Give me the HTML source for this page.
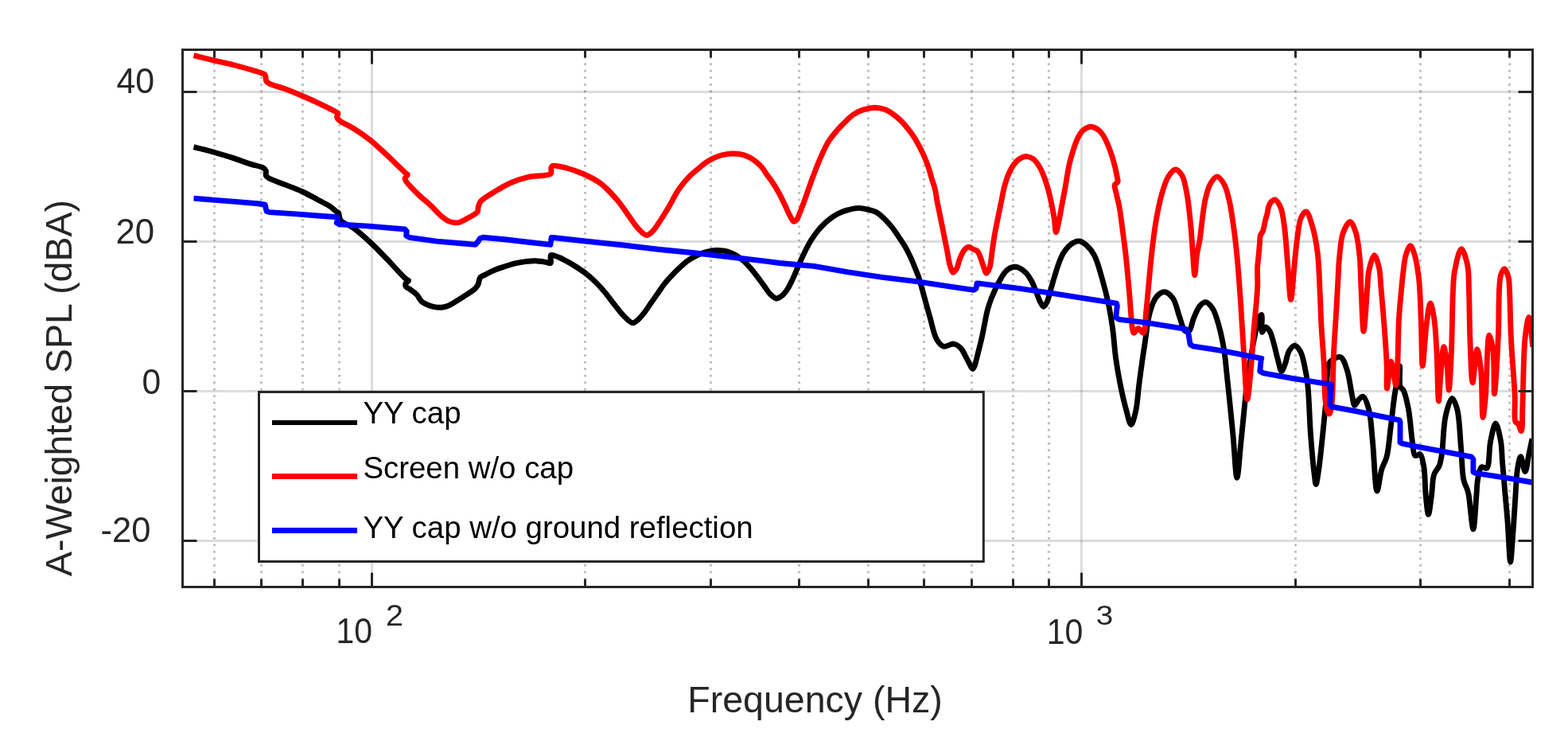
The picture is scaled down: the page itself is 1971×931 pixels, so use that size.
<!DOCTYPE html>
<html><head><meta charset="utf-8"><title>A-Weighted SPL</title>
<style>html,body{margin:0;padding:0;background:#fff;}svg{display:block;}</style></head>
<body><svg width="1971" height="931" viewBox="0 0 1971 931">
<defs><clipPath id="clip"><rect x="229.5" y="62.5" width="1697.0" height="675.0"/></clipPath></defs>
<rect width="1971" height="931" fill="#fff"/>
<line x1="269.5" y1="62.5" x2="269.5" y2="737.5" stroke="#c0c0c0" stroke-width="3" stroke-dasharray="2.8 5.71" stroke-dashoffset="0.22"/>
<line x1="328.5" y1="62.5" x2="328.5" y2="737.5" stroke="#c0c0c0" stroke-width="3" stroke-dasharray="2.8 5.71" stroke-dashoffset="0.22"/>
<line x1="380.5" y1="62.5" x2="380.5" y2="737.5" stroke="#c0c0c0" stroke-width="3" stroke-dasharray="2.8 5.71" stroke-dashoffset="0.22"/>
<line x1="426.5" y1="62.5" x2="426.5" y2="737.5" stroke="#c0c0c0" stroke-width="3" stroke-dasharray="2.8 5.71" stroke-dashoffset="0.22"/>
<line x1="735.5" y1="62.5" x2="735.5" y2="737.5" stroke="#c0c0c0" stroke-width="3" stroke-dasharray="2.8 5.71" stroke-dashoffset="0.22"/>
<line x1="893.5" y1="62.5" x2="893.5" y2="737.5" stroke="#c0c0c0" stroke-width="3" stroke-dasharray="2.8 5.71" stroke-dashoffset="0.22"/>
<line x1="1004.5" y1="62.5" x2="1004.5" y2="737.5" stroke="#c0c0c0" stroke-width="3" stroke-dasharray="2.8 5.71" stroke-dashoffset="0.22"/>
<line x1="1091.5" y1="62.5" x2="1091.5" y2="737.5" stroke="#c0c0c0" stroke-width="3" stroke-dasharray="2.8 5.71" stroke-dashoffset="0.22"/>
<line x1="1161.5" y1="62.5" x2="1161.5" y2="737.5" stroke="#c0c0c0" stroke-width="3" stroke-dasharray="2.8 5.71" stroke-dashoffset="0.22"/>
<line x1="1221.5" y1="62.5" x2="1221.5" y2="737.5" stroke="#c0c0c0" stroke-width="3" stroke-dasharray="2.8 5.71" stroke-dashoffset="0.22"/>
<line x1="1273.5" y1="62.5" x2="1273.5" y2="737.5" stroke="#c0c0c0" stroke-width="3" stroke-dasharray="2.8 5.71" stroke-dashoffset="0.22"/>
<line x1="1318.5" y1="62.5" x2="1318.5" y2="737.5" stroke="#c0c0c0" stroke-width="3" stroke-dasharray="2.8 5.71" stroke-dashoffset="0.22"/>
<line x1="1628.5" y1="62.5" x2="1628.5" y2="737.5" stroke="#c0c0c0" stroke-width="3" stroke-dasharray="2.8 5.71" stroke-dashoffset="0.22"/>
<line x1="1785.5" y1="62.5" x2="1785.5" y2="737.5" stroke="#c0c0c0" stroke-width="3" stroke-dasharray="2.8 5.71" stroke-dashoffset="0.22"/>
<line x1="1897.5" y1="62.5" x2="1897.5" y2="737.5" stroke="#c0c0c0" stroke-width="3" stroke-dasharray="2.8 5.71" stroke-dashoffset="0.22"/>
<line x1="467.5" y1="737.5" x2="467.5" y2="62.5" stroke="#262626" stroke-opacity="0.16" stroke-width="3"/>
<line x1="1359.5" y1="737.5" x2="1359.5" y2="62.5" stroke="#262626" stroke-opacity="0.16" stroke-width="3"/>
<line x1="229.5" y1="679.5" x2="1926.5" y2="679.5" stroke="#262626" stroke-opacity="0.16" stroke-width="3"/>
<line x1="229.5" y1="491.5" x2="1926.5" y2="491.5" stroke="#262626" stroke-opacity="0.16" stroke-width="3"/>
<line x1="229.5" y1="303.5" x2="1926.5" y2="303.5" stroke="#262626" stroke-opacity="0.16" stroke-width="3"/>
<line x1="229.5" y1="115.5" x2="1926.5" y2="115.5" stroke="#262626" stroke-opacity="0.16" stroke-width="3"/>
<path d="M243.5,184.6C252.3,186.9 261.3,189.1 269.8,191.5C277.9,193.8 285.7,196.1 293.4,198.6C300.8,201.0 308.2,203.9 314.9,206.1C320.6,208.0 327.8,209.0 331.0,211.0C332.7,212.1 333.7,213.2 334.3,214.7C334.9,216.4 333.6,219.1 334.3,220.7C334.9,222.0 335.8,222.6 337.5,223.7C341.3,226.1 351.0,229.1 357.9,231.9C365.0,234.7 372.3,237.2 379.4,240.5C386.7,243.8 394.4,248.2 400.9,251.7C406.4,254.6 412.1,257.3 415.9,260.0C418.6,261.9 420.5,264.2 422.3,265.5C423.5,266.4 424.9,266.5 425.6,267.5C426.4,268.6 426.0,270.4 426.5,272.0C427.0,273.8 427.2,275.8 428.8,277.6C431.5,280.6 438.5,282.5 443.8,286.2C450.5,290.9 458.3,297.9 465.3,304.4C472.6,311.1 479.5,318.4 486.8,325.9C494.6,333.9 506.7,348.0 510.9,351.1C512.1,352.0 513.5,351.8 513.6,352.5C513.8,353.4 510.3,355.1 509.8,356.5C509.4,357.6 509.6,359.0 510.2,360.0C511.0,361.4 513.3,362.0 515.2,363.4C517.7,365.2 521.4,367.4 523.8,370.0C526.2,372.5 527.2,376.3 529.8,378.6C532.5,381.0 536.6,382.7 540.0,384.0C543.0,385.1 546.2,385.8 549.1,386.1C551.8,386.4 554.5,386.4 557.0,386.0C559.5,385.6 561.3,385.2 564.1,383.9C569.1,381.7 577.6,375.9 583.5,372.1C588.6,368.8 594.4,365.3 597.4,362.4C599.2,360.6 600.0,359.4 601.0,357.4C602.2,354.9 602.1,350.5 603.7,348.5C605.0,346.9 606.8,346.7 608.9,345.6C612.2,343.9 617.4,341.1 621.8,339.3C626.0,337.5 630.4,336.2 634.7,334.8C639.0,333.4 643.3,331.9 647.6,330.9C651.9,329.9 656.2,329.1 660.5,328.6C664.8,328.1 669.0,327.6 673.3,327.7C677.6,327.8 682.7,328.8 686.2,329.4C688.6,329.8 691.1,331.5 692.2,330.6C693.7,329.4 690.8,321.8 692.4,320.6C694.0,319.4 698.6,321.8 701.8,323.0C705.6,324.4 709.7,326.8 713.6,328.9C717.6,331.1 721.5,333.5 725.4,336.0C729.4,338.6 733.3,341.2 737.2,344.3C741.3,347.5 745.2,351.1 749.1,354.9C753.2,358.9 757.1,363.3 760.9,367.9C764.9,372.7 768.7,378.2 772.7,383.2C776.6,388.1 780.5,393.5 784.5,397.4C788.0,400.8 791.9,405.5 795.1,405.7C797.6,405.9 799.8,403.5 802.1,401.6C804.9,399.2 807.7,395.5 810.4,392.1C813.2,388.5 815.9,384.2 818.6,380.3C821.4,376.4 824.1,372.4 826.9,368.5C829.7,364.6 832.2,360.4 835.2,356.7C838.1,353.0 841.4,349.5 844.6,346.1C847.7,342.8 850.9,339.6 854.1,336.6C857.2,333.7 860.3,330.7 863.5,328.3C866.6,326.0 869.7,324.2 873.0,322.4C876.4,320.6 879.9,319.0 883.6,317.7C887.4,316.4 891.6,315.3 895.4,314.8C898.7,314.4 901.8,314.4 905.0,314.6C908.2,314.8 911.3,315.1 914.4,316.0C917.6,316.9 920.8,318.4 923.9,320.1C927.1,321.9 930.3,324.1 933.3,326.6C936.6,329.3 939.7,332.7 942.8,336.1C946.0,339.7 949.1,343.8 952.2,347.9C955.4,352.1 958.7,356.9 961.7,360.9C964.2,364.3 966.2,367.9 968.8,370.3C971.0,372.4 973.5,374.8 975.9,375.0C978.2,375.1 980.8,373.2 983.0,371.5C985.6,369.5 987.8,366.5 990.0,363.2C992.6,359.2 994.8,354.0 997.1,349.1C999.6,343.8 1001.8,337.9 1004.2,332.5C1006.5,327.3 1008.8,322.2 1011.3,317.2C1013.7,312.3 1016.2,307.4 1019.0,302.8C1021.7,298.3 1024.7,294.0 1027.9,290.1C1030.9,286.4 1034.3,282.9 1037.6,279.8C1040.7,276.9 1043.9,274.3 1047.2,272.1C1050.3,270.0 1053.6,268.3 1056.9,266.9C1060.1,265.5 1063.0,264.6 1066.5,263.7C1070.4,262.7 1075.1,261.4 1079.4,261.4C1083.7,261.4 1088.4,262.8 1092.3,263.7C1095.5,264.5 1098.2,264.9 1101.1,266.4C1104.4,268.1 1107.5,271.0 1110.7,274.0C1114.3,277.4 1118.1,281.6 1121.5,285.8C1125.0,290.1 1128.1,295.2 1131.1,299.7C1133.8,303.8 1136.4,307.5 1138.7,311.6C1141.0,315.7 1143.1,320.1 1145.1,324.4C1147.1,328.7 1148.8,333.2 1150.5,337.3C1152.0,341.1 1153.5,344.4 1154.8,348.1C1156.1,352.0 1156.8,355.0 1158.3,360.2C1160.9,369.4 1165.5,387.0 1169.0,398.8C1171.9,408.9 1173.8,420.4 1177.6,426.7C1180.1,430.8 1183.4,434.5 1186.2,435.3C1188.2,435.9 1190.0,434.5 1192.0,434.0C1194.3,433.4 1196.7,431.7 1199.1,432.1C1201.9,432.5 1205.1,434.8 1207.7,437.5C1211.1,441.0 1213.6,447.9 1216.3,452.5C1218.6,456.5 1221.2,463.5 1222.8,463.5C1223.8,463.5 1224.5,461.1 1225.2,459.5C1226.1,457.4 1226.6,454.7 1227.3,452.0C1228.2,448.7 1229.1,444.8 1230.0,441.2C1230.9,437.6 1231.8,434.2 1232.7,430.5C1233.7,426.5 1234.6,422.1 1235.5,418.0C1236.3,414.1 1237.0,410.2 1237.8,406.4C1238.5,402.6 1239.2,398.6 1240.0,395.1C1240.7,391.9 1241.4,389.1 1242.3,386.1C1243.2,383.1 1244.2,380.1 1245.3,377.1C1246.4,374.1 1247.8,370.9 1249.1,368.0C1250.3,365.2 1251.5,362.5 1252.8,359.8C1254.2,357.0 1255.7,354.2 1257.3,351.5C1258.9,348.7 1260.3,345.7 1262.2,343.3C1264.1,341.0 1266.2,338.7 1268.6,337.4C1270.9,336.1 1273.6,335.2 1276.1,335.3C1278.6,335.4 1281.4,336.7 1283.7,338.0C1286.1,339.3 1288.1,341.1 1290.1,343.3C1292.5,345.9 1294.6,349.3 1296.6,353.0C1299.0,357.4 1301.1,363.4 1303.0,368.0C1304.6,371.9 1305.7,375.7 1307.3,378.8C1308.6,381.3 1310.1,385.1 1311.6,385.2C1313.0,385.3 1314.7,382.2 1315.9,379.9C1317.7,376.5 1318.8,370.7 1320.2,365.9C1321.7,361.0 1323.0,356.1 1324.5,350.9C1326.2,345.4 1327.9,339.2 1329.9,333.7C1331.8,328.5 1333.8,322.9 1336.3,318.6C1338.5,314.9 1341.0,311.6 1343.8,309.0C1346.4,306.7 1349.8,304.5 1352.4,303.6C1354.3,302.9 1355.9,302.7 1357.8,303.1C1360.2,303.7 1362.7,305.5 1365.2,307.7C1368.6,310.7 1372.5,315.0 1375.5,320.6C1379.7,328.4 1382.8,341.2 1385.8,351.6C1388.8,361.9 1391.3,372.2 1393.5,382.5C1395.6,392.8 1397.2,402.7 1398.7,413.4C1400.3,424.9 1400.9,437.9 1402.5,449.5C1404.0,460.2 1405.6,470.0 1407.7,480.5C1409.9,491.5 1412.7,504.4 1415.4,514.0C1417.5,521.4 1419.7,533.5 1421.8,533.5C1423.8,533.5 1426.1,523.1 1427.7,516.4C1429.8,507.4 1430.4,494.2 1431.7,484.2C1432.8,475.6 1433.7,468.3 1434.9,460.0C1436.1,451.2 1437.4,442.7 1438.9,432.8C1440.8,420.7 1442.3,403.3 1445.4,392.5C1447.6,384.7 1449.7,377.6 1453.4,373.2C1456.3,369.8 1460.5,366.5 1463.9,366.7C1467.5,366.9 1471.5,370.9 1474.4,374.8C1478.2,380.1 1479.9,390.2 1482.4,397.3C1484.7,403.6 1486.5,412.6 1488.9,415.1C1489.9,416.2 1490.9,416.5 1492.0,416.5C1493.1,416.5 1494.3,416.2 1495.3,415.1C1497.4,412.9 1498.2,405.5 1500.2,400.6C1502.4,395.3 1505.0,388.0 1508.2,384.4C1510.4,381.9 1513.0,379.4 1515.5,379.6C1518.4,379.8 1521.8,383.9 1524.3,387.7C1527.8,393.0 1530.1,402.0 1532.4,410.2C1535.0,419.5 1537.2,430.7 1538.8,440.8C1540.4,450.6 1541.0,460.2 1542.1,470.0C1543.2,480.0 1544.1,489.0 1545.3,500.3C1546.8,514.5 1548.5,532.2 1550.1,548.6C1551.7,565.5 1553.2,600.2 1554.9,600.2C1556.5,600.2 1558.2,571.6 1559.8,556.7C1561.5,541.0 1563.0,523.5 1564.6,508.3C1566.0,494.8 1567.3,482.3 1569.0,470.2C1570.6,459.0 1572.4,448.1 1574.2,438.0C1575.8,428.9 1577.8,419.1 1579.3,412.2C1580.3,407.6 1580.5,403.6 1581.9,400.6C1582.9,398.4 1584.9,395.2 1585.8,395.5C1587.4,396.0 1584.8,416.9 1586.4,417.4C1587.4,417.7 1589.2,411.0 1590.9,410.9C1592.5,410.8 1594.6,413.7 1596.1,416.1C1598.3,419.7 1599.6,426.0 1601.2,431.6C1603.0,437.9 1604.6,446.0 1606.4,452.2C1607.9,457.4 1609.2,466.3 1610.9,466.4C1612.3,466.5 1614.0,460.9 1615.4,457.3C1617.3,452.6 1618.0,444.6 1620.6,440.6C1622.5,437.6 1625.4,434.0 1627.7,434.1C1630.1,434.2 1632.9,438.5 1634.8,441.9C1637.3,446.5 1638.5,453.5 1639.9,459.9C1641.5,467.1 1642.7,473.4 1643.8,483.1C1645.6,498.9 1646.0,526.4 1647.5,546.0C1648.8,563.4 1650.6,583.8 1652.0,595.0C1652.8,600.9 1653.3,608.5 1654.2,608.5C1655.2,608.5 1656.6,597.4 1657.7,589.9C1659.4,578.5 1661.1,560.6 1662.6,546.4C1664.0,532.7 1665.3,520.2 1666.6,506.1C1668.0,490.5 1667.3,464.3 1670.6,456.7C1671.8,454.0 1673.0,453.3 1675.0,452.0C1677.5,450.4 1682.3,447.4 1685.1,448.6C1688.7,450.1 1691.0,458.2 1693.2,464.7C1696.2,473.4 1697.7,488.8 1699.6,497.0C1700.8,502.1 1701.2,509.0 1702.8,509.3C1704.2,509.5 1706.1,503.9 1708.0,502.0C1709.6,500.3 1711.6,497.7 1713.3,498.1C1716.0,498.8 1718.7,507.4 1720.6,514.2C1723.5,524.4 1723.8,539.5 1725.4,554.4C1727.3,573.0 1728.5,616.9 1731.0,617.0C1732.6,617.1 1734.4,597.7 1736.7,589.9C1738.6,583.7 1741.4,580.4 1743.1,573.8C1745.6,564.3 1746.4,550.3 1748.0,538.0C1749.7,525.0 1751.4,507.7 1752.8,498.0C1753.6,492.5 1754.1,490.0 1755.0,485.0C1756.2,478.0 1758.6,459.9 1759.5,460.0C1760.4,460.1 1758.2,481.3 1760.2,486.0C1761.1,488.2 1762.8,487.9 1764.0,490.0C1766.5,494.5 1768.7,505.0 1770.5,514.2C1772.7,525.8 1773.7,543.7 1775.3,554.4C1776.4,561.5 1776.4,570.5 1778.6,572.2C1779.5,572.9 1780.9,572.3 1782.0,572.0C1783.1,571.7 1784.1,570.2 1785.0,570.6C1787.1,571.5 1788.6,580.2 1789.8,586.7C1791.5,596.1 1791.1,611.5 1792.2,622.2C1793.1,631.1 1794.3,646.4 1795.5,646.4C1796.7,646.4 1798.3,630.4 1799.5,622.2C1800.7,613.7 1800.4,602.7 1802.7,596.0C1804.3,591.4 1807.6,589.1 1809.2,585.1C1810.9,580.7 1811.4,576.9 1812.4,570.6C1814.2,559.2 1814.2,535.0 1817.2,522.2C1819.2,513.4 1822.6,500.6 1825.3,500.5C1827.5,500.4 1830.0,508.1 1831.7,514.2C1834.7,525.2 1835.1,547.1 1836.5,562.5C1837.8,576.5 1837.7,593.2 1839.8,602.8C1841.0,608.4 1843.5,612.1 1844.6,615.7C1845.4,618.2 1845.6,619.1 1846.2,622.2C1847.7,630.2 1850.3,664.9 1851.9,664.9C1853.5,664.9 1854.9,633.7 1855.9,622.2C1856.6,614.5 1856.4,608.9 1857.5,602.8C1858.6,597.1 1859.6,588.3 1862.3,586.7C1864.0,585.7 1867.1,589.5 1868.8,588.3C1872.7,585.7 1871.4,564.5 1873.6,554.4C1875.4,546.1 1877.9,531.9 1880.1,531.9C1882.2,531.9 1885.1,546.6 1886.5,554.4C1888.0,562.6 1887.7,570.8 1888.5,580.0C1889.4,590.8 1890.5,602.9 1891.5,615.0C1892.6,627.9 1893.9,640.9 1895.0,655.0C1896.3,671.0 1897.4,706.0 1898.6,706.0C1899.6,706.0 1900.8,683.3 1901.8,670.6C1903.0,655.7 1904.0,636.7 1905.0,622.2C1905.8,610.4 1906.0,598.9 1907.4,590.0C1908.4,583.6 1910.0,573.8 1911.5,573.8C1913.2,573.8 1915.4,592.6 1917.1,592.5C1918.9,592.4 1920.4,577.7 1921.9,570.6C1923.3,563.9 1924.6,557.7 1926.0,551.2" fill="none" stroke="#000000" stroke-width="6.9" stroke-linejoin="round" stroke-linecap="butt" clip-path="url(#clip)"/>
<path d="M243.5,69.7C252.3,71.8 261.3,74.1 269.8,76.1C277.9,78.0 285.7,79.6 293.4,81.5C300.8,83.4 308.4,85.6 314.9,87.5C320.4,89.1 326.9,90.9 330.0,92.2C331.5,92.9 332.5,93.1 333.2,94.0C333.9,94.9 333.8,96.3 334.0,97.5C334.3,98.9 334.0,100.7 334.7,101.9C335.5,103.2 336.7,104.0 338.6,105.1C342.5,107.3 351.3,109.2 357.9,111.6C364.9,114.2 372.3,117.2 379.4,120.2C386.6,123.2 393.8,126.4 400.9,129.8C408.1,133.2 418.7,138.3 422.3,140.6C423.7,141.5 424.6,141.8 424.9,142.7C425.2,143.8 423.3,145.6 423.5,147.0C423.7,148.5 424.9,149.8 426.6,151.3C429.9,154.2 437.8,157.3 443.8,161.0C450.7,165.3 458.3,170.4 465.3,176.0C472.6,181.8 479.5,188.6 486.8,195.3C494.5,202.5 506.8,214.8 510.4,217.9C511.4,218.8 512.3,218.7 512.4,219.5C512.6,220.7 508.9,222.3 509.0,224.5C509.3,229.2 521.2,239.7 527.0,245.5C531.6,250.2 536.0,253.0 540.5,257.2C545.4,261.8 551.2,268.6 555.5,272.2C558.3,274.6 560.4,276.2 563.0,277.5C565.4,278.7 568.2,279.4 570.6,279.7C572.8,280.0 574.9,280.0 577.0,279.5C579.2,279.0 580.9,277.8 583.5,276.5C587.5,274.4 595.9,270.1 598.5,267.9C599.6,267.0 600.1,266.5 600.5,265.5C601.1,264.2 600.6,262.2 601.1,260.4C601.7,258.1 602.3,255.4 604.3,252.9C607.6,248.9 615.3,244.8 621.5,241.0C628.2,236.9 635.7,232.3 643.0,229.2C650.0,226.2 656.7,224.2 664.4,222.4C673.0,220.4 689.1,221.7 692.4,218.1C694.0,216.3 692.2,212.7 692.8,211.0C693.2,209.9 693.4,208.9 694.5,208.4C697.1,207.2 705.7,209.5 711.7,211.0C718.5,212.7 726.2,215.4 733.2,218.5C740.5,221.8 747.9,225.2 754.7,230.3C762.3,236.0 769.7,244.2 776.2,251.8C782.6,259.2 788.4,268.8 793.3,275.4C796.9,280.3 799.5,284.5 803.0,288.0C806.0,291.1 809.6,295.3 812.7,295.5C815.3,295.6 817.6,293.3 820.0,291.0C823.5,287.7 827.1,281.5 830.5,276.4C834.1,271.1 837.5,265.4 840.9,259.6C844.5,253.5 848.2,245.8 851.4,240.7C853.7,237.1 855.5,234.7 857.9,231.7C860.6,228.3 863.7,224.6 866.9,221.4C870.1,218.2 873.7,215.3 877.2,212.4C880.6,209.5 884.1,206.4 887.5,204.0C890.5,201.9 893.4,200.3 896.6,198.8C899.9,197.3 903.2,196.0 906.9,195.0C910.9,194.0 915.7,193.2 919.8,193.0C923.4,192.8 926.7,193.1 930.1,193.7C933.6,194.3 937.1,195.4 940.4,196.9C943.9,198.5 947.6,201.0 950.7,203.4C953.6,205.7 956.2,208.4 958.4,211.1C960.6,213.7 962.0,216.6 964.0,219.5C966.2,222.6 968.7,225.6 971.0,229.0C973.6,232.8 976.1,236.9 978.6,241.5C981.5,246.7 984.6,253.4 987.2,258.7C989.4,263.3 991.2,268.0 993.2,271.5C994.8,274.2 996.3,278.1 997.9,278.4C999.1,278.6 1000.5,277.2 1001.5,276.0C1002.8,274.5 1003.3,272.4 1004.4,269.8C1006.1,265.8 1008.4,259.7 1010.4,254.4C1012.5,248.8 1014.1,243.5 1016.4,237.2C1019.2,229.3 1023.3,218.1 1026.1,210.9C1028.1,205.8 1029.7,202.2 1031.5,198.0C1033.3,194.0 1035.0,189.9 1036.9,186.2C1038.6,182.8 1040.2,179.6 1042.2,176.6C1044.2,173.6 1046.4,170.8 1048.7,168.0C1051.1,165.1 1053.7,162.1 1056.2,159.4C1058.7,156.8 1061.1,154.4 1063.7,151.9C1066.4,149.3 1069.2,146.5 1072.3,144.3C1075.3,142.2 1078.7,140.3 1082.0,139.0C1085.1,137.7 1088.5,136.9 1091.6,136.3C1094.5,135.7 1097.0,135.1 1100.0,135.2C1103.6,135.3 1107.8,136.0 1111.6,137.3C1115.6,138.7 1119.6,141.3 1123.2,143.8C1126.8,146.3 1130.2,149.4 1133.3,152.5C1136.4,155.7 1139.3,159.3 1142.0,162.7C1144.6,166.0 1147.1,169.4 1149.3,172.8C1151.4,176.1 1153.2,179.5 1155.1,183.0C1157.1,186.7 1159.0,190.5 1160.9,194.6C1162.9,199.1 1165.0,204.2 1166.7,209.1C1168.4,213.9 1169.5,218.8 1171.0,223.6C1172.4,228.4 1174.2,233.0 1175.4,238.0C1176.6,243.2 1177.2,248.6 1178.2,254.0C1179.3,259.7 1180.6,265.4 1181.8,271.5C1183.2,278.3 1184.7,285.8 1186.1,293.0C1187.5,300.1 1189.0,307.4 1190.4,314.4C1191.7,321.0 1192.6,328.7 1194.2,333.8C1195.3,337.3 1196.4,342.1 1197.9,342.4C1199.1,342.6 1201.0,340.1 1202.2,338.1C1204.1,335.1 1204.8,329.3 1206.5,325.2C1208.1,321.4 1209.7,317.0 1211.9,314.4C1213.6,312.4 1215.8,310.3 1217.8,310.2C1219.7,310.1 1221.8,312.5 1223.7,313.4C1225.4,314.2 1227.2,314.2 1228.5,315.5C1230.2,317.1 1231.1,320.1 1232.3,323.0C1233.8,326.7 1235.2,332.2 1236.6,335.9C1237.7,338.8 1238.6,343.3 1239.8,343.4C1241.1,343.5 1243.0,339.2 1244.1,335.9C1245.9,330.7 1246.2,321.6 1247.3,314.4C1248.4,307.3 1249.3,300.1 1250.6,293.0C1251.9,285.8 1253.5,278.5 1254.9,271.5C1256.2,264.8 1257.6,258.4 1258.9,252.0C1260.2,245.9 1261.1,239.7 1262.7,234.0C1264.2,228.6 1265.8,223.2 1267.9,218.5C1269.8,214.3 1271.8,210.2 1274.3,206.9C1276.6,203.9 1279.2,200.9 1282.1,199.2C1284.8,197.6 1288.2,196.4 1291.1,196.6C1293.8,196.8 1296.4,198.0 1298.8,199.8C1301.7,202.0 1304.3,205.8 1306.6,209.5C1309.1,213.6 1311.1,218.7 1313.0,223.7C1315.0,229.0 1316.7,234.8 1318.2,240.4C1319.7,246.0 1320.8,251.5 1322.0,257.2C1323.2,263.1 1324.4,269.3 1325.3,275.2C1326.2,280.9 1326.4,291.9 1327.4,292.0C1328.3,292.1 1329.9,283.0 1331.0,277.8C1332.4,271.6 1333.6,264.1 1334.9,257.2C1336.2,250.3 1337.4,244.1 1338.8,236.6C1340.5,227.4 1342.2,214.7 1344.2,206.0C1345.7,199.5 1347.3,194.4 1349.0,189.0C1350.6,184.0 1352.1,179.1 1354.2,174.8C1356.1,171.0 1357.8,167.1 1360.6,164.5C1363.4,162.0 1367.5,159.5 1370.9,159.3C1374.0,159.1 1377.4,160.9 1380.0,162.6C1382.6,164.3 1384.4,166.7 1386.4,169.6C1388.8,173.1 1390.9,178.0 1392.8,182.5C1394.8,187.1 1396.5,191.9 1398.0,196.7C1399.5,201.4 1400.8,206.3 1401.9,210.9C1402.9,215.3 1404.0,220.6 1404.5,223.8C1404.8,225.7 1405.5,227.1 1405.0,228.5C1404.5,230.0 1401.7,230.7 1401.2,232.5C1400.4,235.1 1402.4,239.2 1403.2,243.1C1404.2,248.1 1405.8,253.4 1407.0,260.0C1408.7,269.1 1410.2,281.9 1411.6,292.8C1413.0,303.6 1414.4,313.5 1415.6,325.0C1417.0,338.4 1418.3,353.7 1419.6,368.3C1420.9,383.2 1422.1,406.0 1423.6,413.4C1424.1,415.9 1424.2,418.1 1425.2,418.3C1426.4,418.6 1429.0,412.5 1431.0,412.5C1433.0,412.5 1435.7,418.9 1437.3,418.3C1440.0,417.3 1439.6,401.5 1440.6,392.5C1441.7,382.8 1442.6,371.9 1443.5,362.0C1444.4,352.7 1445.1,344.4 1446.0,335.0C1447.0,324.8 1448.1,313.6 1449.5,303.1C1450.8,292.7 1452.2,282.3 1454.1,272.2C1455.9,262.3 1458.0,251.8 1460.6,243.0C1462.9,235.4 1465.1,227.6 1468.4,222.3C1470.9,218.3 1474.3,213.1 1477.3,213.0C1480.1,212.9 1483.5,216.7 1485.7,220.3C1489.1,225.7 1490.4,235.3 1492.1,244.4C1494.3,256.0 1495.6,271.7 1496.9,284.7C1498.1,296.8 1498.6,309.2 1499.5,320.0C1500.3,329.3 1501.0,345.8 1501.8,345.8C1502.6,345.8 1503.3,327.9 1504.5,320.0C1505.5,313.1 1506.9,308.7 1508.2,300.8C1510.2,288.4 1511.9,265.2 1514.7,252.5C1516.6,244.0 1518.0,237.0 1521.1,231.6C1523.5,227.4 1527.0,221.9 1530.0,221.9C1532.9,221.9 1536.4,227.4 1538.8,231.6C1541.9,237.0 1543.4,244.3 1545.3,252.5C1547.9,263.7 1549.9,279.6 1551.7,292.8C1553.4,305.4 1554.5,316.4 1555.7,330.0C1557.2,346.4 1558.5,365.5 1559.8,384.4C1561.2,405.0 1562.4,428.5 1563.8,448.9C1565.1,467.4 1566.2,501.9 1567.8,501.9C1569.2,501.9 1571.4,474.1 1572.7,460.0C1574.1,445.7 1574.7,432.1 1575.9,416.7C1577.3,399.1 1580.1,375.0 1580.7,360.3C1581.1,350.9 1580.3,343.9 1580.6,337.0C1580.8,331.4 1581.5,327.2 1582.0,322.0C1582.5,316.5 1583.1,309.8 1583.5,305.0C1583.8,301.5 1583.5,298.6 1584.3,296.0C1585.0,293.7 1586.6,292.5 1587.5,290.0C1588.8,286.6 1589.5,280.9 1590.5,277.0C1591.3,273.9 1592.2,271.4 1592.9,268.6C1593.6,265.8 1593.7,262.6 1594.6,260.0C1595.4,257.6 1596.5,255.0 1598.0,253.5C1599.3,252.2 1601.0,250.6 1602.5,250.9C1604.8,251.4 1607.8,256.4 1609.7,260.6C1612.4,266.6 1613.2,275.4 1614.5,284.7C1616.3,297.4 1617.2,314.8 1618.5,330.0C1619.9,345.4 1621.2,376.4 1622.6,376.4C1623.9,376.4 1625.3,352.0 1626.5,340.0C1627.7,328.2 1628.4,316.3 1630.0,305.0C1631.5,294.2 1632.4,280.0 1635.5,273.4C1637.2,269.8 1639.8,265.7 1641.8,266.0C1644.7,266.4 1647.5,277.3 1649.7,284.4C1652.5,293.5 1654.5,304.5 1656.1,316.7C1658.1,332.2 1658.5,353.7 1659.3,370.0C1660.0,383.8 1660.2,394.8 1660.9,408.3C1661.7,423.5 1663.4,441.0 1664.2,456.7C1665.0,471.5 1664.7,489.3 1665.7,500.0C1666.3,506.3 1666.7,511.4 1668.0,515.0C1668.8,517.2 1670.1,520.1 1671.0,520.0C1672.0,519.9 1672.9,515.0 1673.5,512.0C1674.2,508.4 1674.3,505.5 1674.7,500.0C1675.5,488.2 1675.6,462.5 1676.5,444.0C1677.3,425.8 1678.8,406.7 1679.8,390.0C1680.6,375.7 1681.3,361.8 1682.0,350.0C1682.5,340.6 1682.6,333.6 1683.5,324.7C1684.6,314.6 1685.2,300.7 1688.3,292.5C1690.5,286.7 1694.5,278.7 1697.2,278.8C1699.8,278.9 1702.5,286.8 1704.4,292.5C1707.1,300.8 1708.2,313.7 1709.3,324.7C1710.4,336.2 1710.2,346.9 1710.9,360.0C1711.7,376.6 1712.8,416.4 1714.1,416.4C1715.4,416.4 1717.7,373.9 1718.9,360.0C1719.6,351.9 1719.2,347.2 1720.6,340.8C1722.0,334.1 1725.2,320.7 1727.5,320.7C1729.5,320.7 1732.0,330.1 1733.4,336.0C1735.2,343.4 1735.1,352.1 1736.0,362.0C1737.2,375.2 1738.7,392.7 1739.9,408.3C1741.1,424.2 1742.5,442.3 1743.1,456.7C1743.6,468.3 1742.6,487.9 1743.5,488.0C1744.4,488.1 1746.8,454.2 1748.7,454.2C1750.5,454.2 1753.2,484.1 1754.7,484.0C1757.3,483.8 1757.2,420.9 1758.5,400.0C1759.3,387.5 1760.1,379.5 1761.0,370.0C1761.8,361.3 1762.5,353.3 1763.5,345.0C1764.6,336.7 1765.2,326.6 1767.3,320.0C1768.8,315.3 1771.1,308.6 1772.9,308.6C1774.8,308.6 1777.0,316.3 1778.6,321.5C1780.8,328.8 1782.3,340.3 1783.4,348.9C1784.3,356.4 1784.5,361.8 1785.0,370.0C1785.6,381.2 1786.0,395.9 1786.5,410.0C1787.1,425.7 1787.1,459.9 1788.2,459.9C1789.3,459.9 1791.1,422.8 1793.1,408.3C1794.5,397.7 1796.1,381.0 1797.9,380.9C1799.4,380.8 1801.5,392.6 1802.7,400.3C1804.5,411.2 1805.0,425.6 1805.9,440.6C1807.0,459.3 1807.4,504.0 1808.4,504.0C1809.1,504.0 1809.8,483.6 1810.8,472.8C1811.9,461.0 1813.2,435.8 1814.8,435.7C1816.0,435.7 1817.8,448.9 1818.8,456.7C1820.1,466.5 1820.4,490.0 1821.2,490.0C1822.2,490.0 1823.7,458.8 1824.5,440.6C1825.5,418.1 1825.5,383.2 1826.5,365.0C1827.1,354.7 1826.9,349.1 1828.5,340.8C1830.2,331.7 1834.0,312.7 1836.9,312.6C1839.4,312.5 1843.0,325.1 1844.6,332.8C1846.6,342.2 1846.0,352.6 1846.5,365.0C1847.2,381.8 1847.0,404.9 1847.8,424.4C1848.6,443.5 1849.4,480.7 1851.1,480.8C1852.5,480.9 1854.7,439.0 1856.7,438.9C1858.2,438.9 1860.3,454.3 1861.5,464.7C1863.3,480.5 1862.7,524.5 1864.0,524.6C1864.9,524.6 1866.2,510.5 1867.2,500.0C1869.0,481.2 1869.3,421.4 1872.0,421.2C1873.3,421.1 1875.7,432.4 1876.8,440.6C1878.7,454.1 1877.5,494.8 1878.5,494.8C1879.6,494.8 1882.0,448.5 1883.3,424.4C1884.7,398.9 1882.8,358.2 1886.5,345.7C1887.8,341.4 1889.8,337.5 1891.3,337.6C1893.0,337.7 1895.2,344.7 1896.2,348.9C1897.4,353.7 1897.1,357.9 1897.5,365.0C1898.3,378.6 1898.4,403.6 1899.4,424.4C1900.5,447.4 1903.3,477.5 1904.2,497.0C1904.8,510.1 1902.7,525.8 1905.0,530.0C1905.8,531.4 1907.1,530.9 1908.0,532.0C1909.6,533.9 1911.3,541.8 1912.3,541.6C1914.1,541.3 1913.3,523.1 1913.9,510.0C1914.8,488.4 1914.9,444.5 1917.1,424.4C1918.3,413.3 1920.4,398.7 1921.9,398.7C1923.7,398.7 1925.2,423.4 1926.8,435.7" fill="none" stroke="#ff0000" stroke-width="6.9" stroke-linejoin="round" stroke-linecap="butt" clip-path="url(#clip)"/>
<path d="M243.5,249.1 L270.0,251.4 L295.9,253.4 L326.3,256.0 L333.2,257.2 L334.2,262.0 L335.2,265.5 L338.5,266.6 L372.0,268.9 L402.4,271.2 L423.7,272.7 L424.6,275.5 L423.2,280.0 L426.8,281.9 L463.3,284.1 L509.0,288.0 L511.2,290.5 L510.6,296.0 L514.6,298.4 L548.7,303.1 L585.3,306.2 L597.4,307.4 L600.5,304.0 L603.5,299.5 L607.2,298.3 L634.0,300.7 L670.5,305.0 L691.8,307.4 L692.6,303.0 L693.2,298.5 L697.6,298.7 L735.7,303.0 L781.3,307.8 L827.0,313.2 L872.6,317.7 L918.3,323.0 L964.0,328.4 L980.0,330.5 L1023.0,334.4 L1065.9,341.9 L1108.9,348.3 L1151.9,353.7 L1194.8,360.2 L1223.8,364.4 L1227.0,362.3 L1228.1,356.0 L1232.4,356.3 L1280.8,362.3 L1323.7,368.7 L1360.0,374.4 L1403.5,381.2 L1404.3,384.4 L1402.7,398.9 L1406.7,401.4 L1440.6,405.4 L1490.5,413.4 L1493.7,418.3 L1496.1,432.8 L1500.2,435.2 L1537.2,440.8 L1585.8,450.3 L1585.1,452.2 L1583.8,466.5 L1588.4,468.9 L1624.4,475.4 L1673.4,483.1 L1673.0,490.0 L1671.5,508.0 L1674.0,511.0 L1704.4,516.6 L1759.2,527.9 L1760.0,530.3 L1760.0,556.0 L1764.1,557.7 L1801.1,564.9 L1849.4,573.8 L1851.9,577.0 L1851.9,593.1 L1855.9,594.7 L1897.8,601.2 L1926.0,606.0" fill="none" stroke="#0000ff" stroke-width="6.9" stroke-linejoin="round" stroke-linecap="butt" clip-path="url(#clip)"/>
<g stroke="#262626" stroke-width="3" fill="none"><line x1="269.5" y1="737.5" x2="269.5" y2="727.5"/><line x1="269.5" y1="62.5" x2="269.5" y2="72.5"/><line x1="328.5" y1="737.5" x2="328.5" y2="727.5"/><line x1="328.5" y1="62.5" x2="328.5" y2="72.5"/><line x1="380.5" y1="737.5" x2="380.5" y2="727.5"/><line x1="380.5" y1="62.5" x2="380.5" y2="72.5"/><line x1="426.5" y1="737.5" x2="426.5" y2="727.5"/><line x1="426.5" y1="62.5" x2="426.5" y2="72.5"/><line x1="735.5" y1="737.5" x2="735.5" y2="727.5"/><line x1="735.5" y1="62.5" x2="735.5" y2="72.5"/><line x1="893.5" y1="737.5" x2="893.5" y2="727.5"/><line x1="893.5" y1="62.5" x2="893.5" y2="72.5"/><line x1="1004.5" y1="737.5" x2="1004.5" y2="727.5"/><line x1="1004.5" y1="62.5" x2="1004.5" y2="72.5"/><line x1="1091.5" y1="737.5" x2="1091.5" y2="727.5"/><line x1="1091.5" y1="62.5" x2="1091.5" y2="72.5"/><line x1="1161.5" y1="737.5" x2="1161.5" y2="727.5"/><line x1="1161.5" y1="62.5" x2="1161.5" y2="72.5"/><line x1="1221.5" y1="737.5" x2="1221.5" y2="727.5"/><line x1="1221.5" y1="62.5" x2="1221.5" y2="72.5"/><line x1="1273.5" y1="737.5" x2="1273.5" y2="727.5"/><line x1="1273.5" y1="62.5" x2="1273.5" y2="72.5"/><line x1="1318.5" y1="737.5" x2="1318.5" y2="727.5"/><line x1="1318.5" y1="62.5" x2="1318.5" y2="72.5"/><line x1="1628.5" y1="737.5" x2="1628.5" y2="727.5"/><line x1="1628.5" y1="62.5" x2="1628.5" y2="72.5"/><line x1="1785.5" y1="737.5" x2="1785.5" y2="727.5"/><line x1="1785.5" y1="62.5" x2="1785.5" y2="72.5"/><line x1="1897.5" y1="737.5" x2="1897.5" y2="727.5"/><line x1="1897.5" y1="62.5" x2="1897.5" y2="72.5"/><line x1="467.5" y1="737.5" x2="467.5" y2="719.5"/><line x1="467.5" y1="62.5" x2="467.5" y2="80.5"/><line x1="1359.5" y1="737.5" x2="1359.5" y2="719.5"/><line x1="1359.5" y1="62.5" x2="1359.5" y2="80.5"/><line x1="229.5" y1="679.5" x2="247.5" y2="679.5"/><line x1="1926.5" y1="679.5" x2="1908.5" y2="679.5"/><line x1="229.5" y1="491.5" x2="247.5" y2="491.5"/><line x1="1926.5" y1="491.5" x2="1908.5" y2="491.5"/><line x1="229.5" y1="303.5" x2="247.5" y2="303.5"/><line x1="1926.5" y1="303.5" x2="1908.5" y2="303.5"/><line x1="229.5" y1="115.5" x2="247.5" y2="115.5"/><line x1="1926.5" y1="115.5" x2="1908.5" y2="115.5"/><rect x="229.5" y="62.5" width="1697.0" height="675.0" fill="none"/></g>
<g fill="#262626" font-family="Liberation Sans, Arial, sans-serif"><text transform="translate(146.45,117.40) scale(0.9621,1)" font-size="44.56" fill="#262626" >40</text><text transform="translate(145.45,306.40) scale(0.9840,1)" font-size="44.56" fill="#262626" >20</text><text transform="translate(178.45,494.50) scale(0.9677,1)" font-size="43.99" fill="#262626" >0</text><text transform="translate(126.50,681.40) scale(0.9829,1)" font-size="44.27" fill="#262626" >-20</text><text transform="translate(422.45,808.40) scale(0.9176,1)" font-size="44.56" fill="#262626" >10</text><text transform="translate(485.00,786.00) scale(1.0929,1)" font-size="36.17" fill="#262626" >2</text><text transform="translate(1315.65,809.15) scale(0.9250,1)" font-size="44.42" fill="#262626" >10</text><text transform="translate(1377.80,785.00) scale(1.0758,1)" font-size="35.87" fill="#262626" >3</text><text transform="translate(864.30,895.00) scale(1.0000,1)" font-size="46.50" fill="#262626" >Frequency (Hz)</text><text transform="translate(90.00,724.00) rotate(-90)" font-size="46.5">A-Weighted SPL (dBA)</text></g>
<rect x="325.5" y="492.5" width="910.8" height="213" fill="#fff" stroke="#262626" stroke-width="3"/><line x1="342" y1="531" x2="449" y2="531" stroke="#000" stroke-width="6"/><text transform="translate(456.40,531.70) scale(1.011,1)" font-size="38" fill="#000" font-family="Liberation Sans, Arial, sans-serif">YY cap</text><line x1="342" y1="598.5" x2="449" y2="598.5" stroke="#f00" stroke-width="7"/><text transform="translate(456.40,600.50) scale(1.011,1)" font-size="38" fill="#000" font-family="Liberation Sans, Arial, sans-serif">Screen w/o cap</text><line x1="342" y1="666.5" x2="449" y2="666.5" stroke="#00f" stroke-width="7"/><text transform="translate(456.40,676.00) scale(1.011,1)" font-size="38" fill="#000" font-family="Liberation Sans, Arial, sans-serif">YY cap w/o ground reflection</text>
</svg></body></html>
